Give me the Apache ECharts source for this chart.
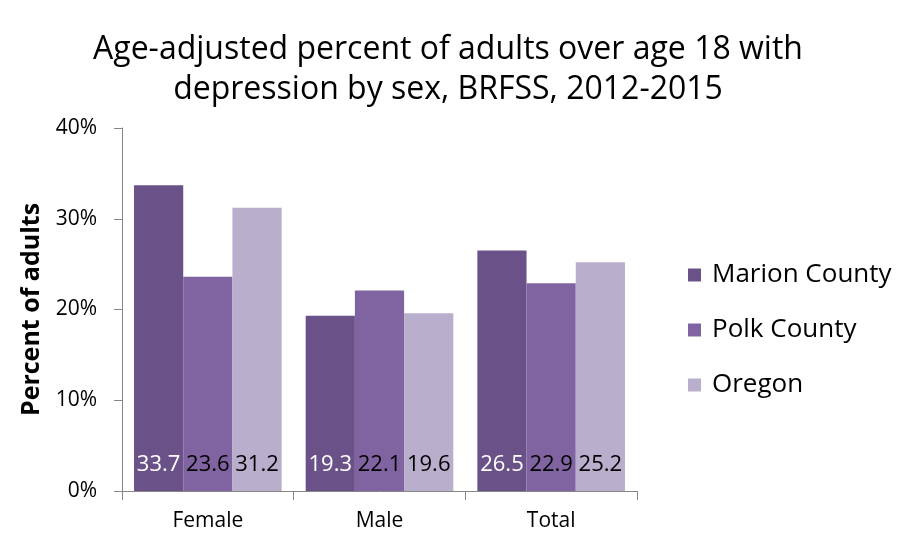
<!DOCTYPE html>
<html>
<head>
<meta charset="utf-8">
<script src="https://cdn.jsdelivr.net/npm/echarts@6/dist/echarts.min.js"></script>
<style>
  html, body { margin: 0; padding: 0; background: #fff; }
  #chart { width: 907px; height: 538px; }
</style>
</head>
<body>
<div id="chart"></div>
<script>
// data
const categories = ['Female', 'Male', 'Total'];
const marion = [33.7, 19.3, 26.5];
const polk = [23.6, 22.1, 22.9];
const oregon = [31.2, 19.6, 25.2];
const seriesNames = ['Marion County', 'Polk County', 'Oregon'];
const colors = ['#6a5289', '#8064a2', '#b9aecb'];

const font = '"Open Sans", "Noto Sans", sans-serif';

function bar(name, data, color, labelColor) {
    return {
        name: name,
        type: 'bar',
        data: data,
        barGap: '0%',
        barCategoryGap: '14%',
        itemStyle: { color: color },
        label: {
            show: true,
            position: 'insideBottom',
            distance: 15,
            color: labelColor,
            fontFamily: font,
            fontSize: 22,
            formatter: p => p.value.toFixed(1)
        }
    };
}

let myChart = echarts.init(document.getElementById('chart'));
myChart.setOption({
    animation: false,
    textStyle: { fontFamily: font },
    title: {
        text: 'Age-adjusted percent of adults over age 18 with\ndepression by sex, BRFSS, 2012-2015',
        left: 443,
        textAlign: 'center',
        top: 25,
        textStyle: { fontSize: 32, fontWeight: 'normal', color: '#000', lineHeight: 40, fontFamily: font }
    },
    legend: {
        orient: 'vertical',
        left: 683,
        top: 257,
        itemWidth: 13,
        itemHeight: 13,
        itemGap: 29,
        icon: 'rect',
        textStyle: { fontSize: 26, color: '#000', fontFamily: font, padding: [0, 0, 0, 6] },
        data: seriesNames
    },
    grid: { left: 122, right: 270, top: 128, bottom: 47 },
    xAxis: {
        type: 'category',
        data: categories,
        axisLine: { lineStyle: { color: '#868686' } },
        axisTick: { show: true, length: 9, lineStyle: { color: '#868686' } },
        axisLabel: { fontSize: 21, color: '#000', margin: 20 }
    },
    yAxis: {
        type: 'value',
        min: 0,
        max: 40,
        interval: 10,
        name: 'Percent of adults',
        nameLocation: 'middle',
        nameGap: 70,
        nameTextStyle: { fontSize: 25, fontWeight: 'bold', color: '#000' },
        splitLine: { show: false },
        axisLine: { show: true, lineStyle: { color: '#868686' } },
        axisTick: { show: true, length: 8, lineStyle: { color: '#868686' } },
        axisLabel: { fontSize: 21, color: '#000', margin: 25, formatter: '{value}%' }
    },
    series: [
        bar(seriesNames[0], marion, colors[0], '#fff'),
        bar(seriesNames[1], polk, colors[1], '#000'),
        bar(seriesNames[2], oregon, colors[2], '#000')
    ]
});
</script>
</body>
</html>
